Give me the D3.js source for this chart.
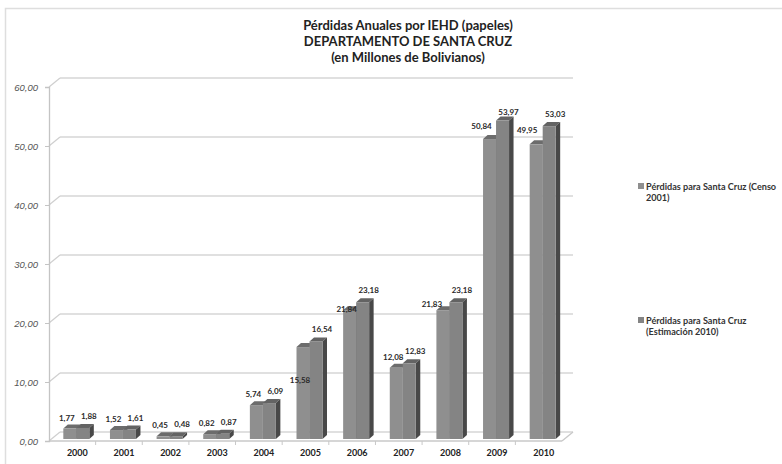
<!DOCTYPE html>
<html>
<head>
<meta charset="utf-8">
<script src="https://cdn.jsdelivr.net/npm/d3@7"></script>
<style>
  body { margin: 0; background: #fff; }
  svg { display: block; }
</style>
</head>
<body>
<svg id="chart" width="782" height="464"></svg>
<script>
// Annual losses from IEHD (paper), Santa Cruz department, in millions of Bs.
const years = ["2000","2001","2002","2003","2004","2005","2006","2007","2008","2009","2010"];
const censo2001 = [1.77, 1.52, 0.45, 0.82, 5.74, 15.58, 21.84, 12.08, 21.83, 50.84, 49.95];
const estimacion2010 = [1.88, 1.61, 0.48, 0.87, 6.09, 16.54, 23.18, 12.83, 23.18, 53.97, 53.03];
const yTicks = [0, 10, 20, 30, 40, 50, 60];
const titleLines = [
  "Pérdidas Anuales por IEHD (papeles)",
  "DEPARTAMENTO DE SANTA CRUZ",
  "(en Millones de Bolivianos)"
];
const legendLines = [
  ["Pérdidas para Santa Cruz (Censo", "2001)"],
  ["Pérdidas para Santa Cruz", "(Estimación 2010)"]
];

const series = [censo2001, estimacion2010];
const svg = d3.select("#chart");
const fmt = v => d3.format(".2f")(v).replace(".", ",");
const font = "Lato, 'Open Sans', sans-serif";

// outer chart frame
svg.append("rect").attr("x", 5.5).attr("y", 8.5).attr("width", 800).attr("height", 500)
  .attr("fill", "#fff").attr("stroke", "#dedede").attr("stroke-width", 1.5);

// title
svg.append("g").selectAll("text").data(titleLines).join("text")
  .attr("x", 408).attr("y", (d, i) => 30 + i * 16)
  .attr("text-anchor", "middle")
  .attr("font-family", font).attr("font-weight", "bold").attr("font-size", 13)
  .attr("fill", "#222").text(d => d);

// front plane geometry + oblique depth of the 3D box
const left = 49, right = 562;
const depth = { dx: 11, dy: -9 };
const y = d3.scaleLinear().domain([0, 60]).range([441, 87]);
const x = d3.scaleBand().domain(years).range([left, right]);

const grid = svg.append("g").attr("fill", "none");
// back-wall gridlines and the diagonals joining them to the front axis
yTicks.forEach(v => {
  const yy = y(v);
  grid.append("line")
    .attr("x1", left + depth.dx).attr("x2", right + depth.dx)
    .attr("y1", yy + depth.dy).attr("y2", yy + depth.dy)
    .attr("stroke", "#d6d6d6").attr("stroke-width", 1.5);
  grid.append("line")
    .attr("x1", left).attr("y1", yy).attr("x2", left + depth.dx).attr("y2", yy + depth.dy)
    .attr("stroke", "#cfcfcf").attr("stroke-width", 1.2);
});
// floor: front edge and right-hand edge
grid.append("line").attr("x1", left).attr("x2", right).attr("y1", y(0)).attr("y2", y(0))
  .attr("stroke", "#c8c8c8").attr("stroke-width", 1.3);
grid.append("line").attr("x1", right).attr("y1", y(0))
  .attr("x2", right + depth.dx).attr("y2", y(0) + depth.dy)
  .attr("stroke", "#c8c8c8").attr("stroke-width", 1.3);

// value axis on the front-left edge
const yAxis = svg.append("g").attr("transform", `translate(${left},0)`)
  .call(d3.axisLeft(y).tickValues(yTicks).tickSize(4).tickPadding(7).tickFormat(fmt));
yAxis.select(".domain").attr("stroke", "#c4c4c4").attr("stroke-width", 1.3);
yAxis.selectAll(".tick line").attr("stroke", "#c4c4c4");
yAxis.selectAll("text").attr("font-family", "'Liberation Sans', Arial, sans-serif")
  .attr("font-style", "italic").attr("font-size", 9.5).attr("fill", "#555");

// category axis along the floor's front edge
const xAxis = svg.append("g").attr("transform", `translate(0,${y(0)})`)
  .call(d3.axisBottom(x).tickSize(0).tickPadding(9));
xAxis.select(".domain").remove();
xAxis.selectAll(".tick text").attr("dx", 5)
  .attr("font-family", font).attr("font-weight", "bold").attr("font-size", 9).attr("fill", "#222");
// boundary ticks between categories
svg.append("g").selectAll("line").data(years.slice(1)).join("line")
  .attr("x1", d => x(d)).attr("x2", d => x(d))
  .attr("y1", y(0)).attr("y2", y(0) + 4)
  .attr("stroke", "#c8c8c8");

// 3D columns
const barW = 13, sideW = 4.5, topH = 4;
const barShift = { dx: 4, dy: -2 };
const faces = [
  { front: "#8f8f8f", top: "#6c6c6c", side: "#4f4f4f" },
  { front: "#848484", top: "#636363", side: "#484848" }
];
const barX = (i, s) => x(years[i]) + x.bandwidth() / 2 + barShift.dx - barW + s * barW;
const barY = v => y(v) + barShift.dy;
const baseY = y(0) + barShift.dy;

const bars = svg.append("g");
years.forEach((yr, i) => {
  series.forEach((vals, s) => {
    const v = vals[i];
    const x0 = barX(i, s), x1 = x0 + barW, yt = barY(v);
    const c = faces[s];
    bars.append("path")
      .attr("d", `M${x0},${yt}L${x0 + sideW},${yt - topH}L${x1 + sideW},${yt - topH}L${x1},${yt}Z`)
      .attr("fill", c.top);
    bars.append("path")
      .attr("d", `M${x1},${yt}L${x1 + sideW},${yt - topH}L${x1 + sideW},${baseY - topH}L${x1},${baseY}Z`)
      .attr("fill", c.side);
    bars.append("rect").attr("x", x0).attr("y", yt).attr("width", barW)
      .attr("height", baseY - yt).attr("fill", c.front);
  });
});

// value labels (default offsets per series, with a few hand nudges)
const labelOffset = [{ dx: -3, dy: -8 }, { dx: 6, dy: -9 }];
const labelNudge = {
  "0-5": { dx: -3, dy: 36 },
  "0-6": { dx: -3, dy: 2 },
  "0-8": { dx: -11, dy: -3 },
  "0-9": { dx: -8, dy: -10 },
  "0-10": { dx: -9, dy: -11 },
  "1-9": { dx: 6, dy: -6 }
};
const labels = svg.append("g")
  .attr("font-family", font).attr("font-weight", "bold").attr("font-size", 8)
  .attr("fill", "#2a2a2a").attr("text-anchor", "middle");
years.forEach((yr, i) => {
  series.forEach((vals, s) => {
    const v = vals[i];
    const off = labelNudge[`${s}-${i}`] || labelOffset[s];
    labels.append("text")
      .attr("x", barX(i, s) + barW / 2 + off.dx)
      .attr("y", barY(v) + off.dy)
      .text(fmt(v));
  });
});

// legend
const legend = svg.append("g").attr("font-family", font).attr("font-weight", "bold")
  .attr("font-size", 9.1).attr("fill", "#333");
const legendTop = [183, 317];
legendLines.forEach((lines, s) => {
  const top = legendTop[s];
  legend.append("rect").attr("x", 638).attr("y", top).attr("width", 6).attr("height", 6)
    .attr("fill", faces[s].front);
  lines.forEach((t, k) => {
    legend.append("text").attr("x", 646).attr("y", top + 7 + k * 10.5).text(t);
  });
});
</script>
</body>
</html>
